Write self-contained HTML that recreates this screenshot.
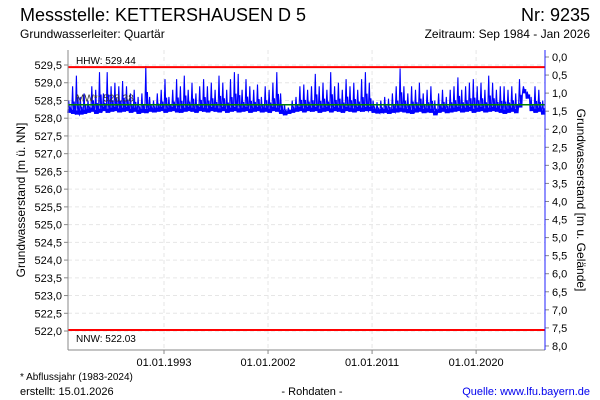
<!DOCTYPE html>
<html><head><meta charset="utf-8"><style>
body{margin:0;background:#fff;}
svg{display:block;font-family:"Liberation Sans",sans-serif;}
</style></head><body>
<svg id="c" width="600" height="400" viewBox="0 0 600 400">
<text x="20" y="21" font-size="18" fill="#000">Messstelle: KETTERSHAUSEN D 5</text>
<text x="590" y="21" font-size="18" text-anchor="end" fill="#000">Nr: 9235</text>
<text x="20" y="38" font-size="12">Grundwasserleiter: Quartär</text>
<text x="590" y="38" font-size="12" text-anchor="end">Zeitraum: Sep 1984 - Jan 2026</text>
<g id="grid"></g>
<g id="series"></g>
<g id="axes"></g>
<text transform="translate(25,200) rotate(-90)" font-size="12" text-anchor="middle">Grundwasserstand [m ü. NN]</text>
<text transform="translate(577,200) rotate(90)" font-size="12" text-anchor="middle">Grundwasserstand [m u. Gelände]</text>
<text x="20" y="380" font-size="10">* Abflussjahr (1983-2024)</text>
<text x="20" y="395" font-size="11">erstellt:  15.01.2026</text>
<text x="312" y="395" font-size="11" text-anchor="middle">- Rohdaten -</text>
<text x="590" y="395" font-size="11" text-anchor="end" fill="#0000ee">Quelle: www.lfu.bayern.de</text>
</svg>
<script>
const leftTicks=["529,5","529,0","528,5","528,0","527,5","527,0","526,5","526,0","525,5","525,0","524,5","524,0","523,5","523,0","522,5","522,0"];
const leftTickValues=[529.5,529,528.5,528,527.5,527,526.5,526,525.5,525,524.5,524,523.5,523,522.5,522];
const rightTicks=["0,0","0,5","1,0","1,5","2,0","2,5","3,0","3,5","4,0","4,5","5,0","5,5","6,0","6,5","7,0","7,5","8,0"];
const rightTickValues=[0,0.5,1,1.5,2,2.5,3,3.5,4,4.5,5,5.5,6,6.5,7,7.5,8];
const xTickLabels=["01.01.1993","01.01.2002","01.01.2011","01.01.2020"];
const xTickYears=[1993,2002,2011,2020];
const refValues=[529.44,528.38,522.03];
const refLabels=["HHW: 529.44","MW*: 528.38","NNW: 522.03"];
const startYear=1984.67, stepYear=1/3;
const highs=[528.5,528.9,529.2,528.6,528.7,528.5,528.9,528.8,529.3,528.7,529.3,528.9,529.0,528.9,529.05,528.9,528.7,528.8,528.6,528.7,529.47,528.6,528.5,528.7,528.8,529.1,528.6,528.8,529.1,528.9,529.2,528.8,529.0,528.7,528.9,529.1,528.9,529.0,528.8,529.2,529.0,528.8,529.1,529.3,529.25,528.8,529.1,528.9,528.8,528.95,528.6,528.9,528.8,529.0,529.3,528.7,528.4,528.3,528.5,528.6,528.9,528.95,528.8,528.9,529.25,528.9,529.0,528.8,529.3,528.9,529.0,528.8,529.1,528.9,529.0,528.8,529.1,529.3,529.0,528.5,528.45,528.5,528.6,528.55,528.7,528.9,529.4,528.9,528.7,528.9,528.8,529.0,528.7,528.8,528.9,528.5,528.7,528.8,528.6,528.8,528.9,529.15,528.8,528.9,529.0,529.1,528.9,529.0,528.8,529.2,529.0,528.8,528.9,528.9,528.8,528.9,528.7,529.1,528.9,528.75,528.6,528.9,528.8,528.5];
const lows=[528.15,528.12,528.1,528.1,528.12,528.15,528.18,528.12,528.15,528.2,528.15,528.18,528.2,528.16,528.18,528.2,528.15,528.18,528.12,528.15,528.14,528.18,528.16,528.18,528.2,528.15,528.18,528.2,528.16,528.15,528.18,528.2,528.18,528.15,528.2,528.18,528.16,528.2,528.18,528.16,528.2,528.15,528.18,528.2,528.16,528.18,528.2,528.15,528.18,528.2,528.16,528.18,528.15,528.2,528.18,528.12,528.08,528.12,528.15,528.18,528.2,528.16,528.2,528.18,528.2,528.15,528.18,528.2,528.16,528.2,528.18,528.15,528.2,528.18,528.16,528.2,528.18,528.2,528.2,528.15,528.13,528.14,528.15,528.12,528.15,528.16,528.18,528.16,528.14,528.12,528.16,528.18,528.14,528.16,528.15,528.08,528.15,528.18,528.14,528.16,528.18,528.2,528.16,528.18,528.2,528.15,528.18,528.2,528.16,528.18,528.2,528.18,528.15,528.12,528.15,528.18,528.14,528.3,528.7,528.55,528.2,528.15,528.18,528.1];
const NS="http://www.w3.org/2000/svg";
const X0=67.7, PX_PER_YEAR=11.56;
const xOf=yr=>X0+(yr-1984.67)*PX_PER_YEAR;
const yOf=v=>65+(529.5-v)*35.47;
const yR=d=>57+d*36.12;
const PL=68,PR=545,PT=50,PB=350;
function mk(tag,attrs,parent){const e=document.createElementNS(NS,tag);for(const k in attrs)e.setAttribute(k,attrs[k]);parent.appendChild(e);return e;}
const grid=document.getElementById('grid'),axes=document.getElementById('axes'),ser=document.getElementById('series');
leftTickValues.forEach((v,i)=>{
  const y=yOf(v);
  const g=mk('line',{x1:PL,x2:PR,y1:y,y2:y,stroke:'#e6e6e6','stroke-dasharray':'4,3'},grid);
  
  
  const t=mk('line',{x1:PL-4,x2:PL,y1:y,y2:y,stroke:'#888'},axes);
  
  
  const l=mk('text',{x:PL-6,y:y+4,'font-size':11,'text-anchor':'end'},axes);
  l.textContent=leftTicks[i];
  
  
});
rightTickValues.forEach((v,i)=>{
  const y=yR(v);
  const t=mk('line',{x1:PR,x2:PR+4,y1:y,y2:y,stroke:'#888'},axes);
  
  
  const l=mk('text',{x:PR+7,y:y+4,'font-size':11},axes);
  l.textContent=rightTicks[i];
  
  
});
xTickYears.forEach((yr,i)=>{
  const x=xOf(yr);
  const g=mk('line',{x1:x,x2:x,y1:PT,y2:PB,stroke:'#e6e6e6','stroke-dasharray':'4,3'},grid);
  
  
  const t=mk('line',{x1:x,x2:x,y1:PB,y2:PB+4,stroke:'#888'},axes);
  
  
  const l=mk('text',{x:x,y:PB+16,'font-size':11,'text-anchor':'middle'},axes);
  l.textContent=xTickLabels[i];
  
  
});
let d='';
highs.forEach((h,i)=>{
  const x=xOf(startYear+i*stepYear);
  const lo=lows[i];
  d+=(i?'L':'M')+x.toFixed(1)+','+yOf(lo).toFixed(1);
  d+='L'+(x+1).toFixed(1)+','+yOf(h).toFixed(1);
  d+='L'+(x+1.8).toFixed(1)+','+yOf(lo+0.1).toFixed(1);
  d+='L'+(x+2.6).toFixed(1)+','+yOf(lo+(h-lo)*0.45).toFixed(1);
  d+='L'+(x+3.3).toFixed(1)+','+yOf(lo+0.03).toFixed(1);
  const b=mk('rect',{x:x,y:yOf(lo+0.12),width:3.9,height:yOf(lo)-yOf(lo+0.12),fill:'#0000ff'},ser);
  
  
});
const line=mk('path',{d:d,fill:'none',stroke:'#0000ff','stroke-width':1.1},ser);


refValues.forEach((v,i)=>{
  const y=yOf(v);
  const c=i===1?'#008000':'#ff0000';
  const r=mk('line',{x1:PL,x2:PR,y1:y,y2:y,stroke:c,'stroke-width':i===1?1.5:2},ser);
  
  
  const ty=i===2?y+12:y-3;
  const l=mk('text',{x:76,y:ty,'font-size':10,fill:i===1?'#333':'#000'},ser);
  l.textContent=refLabels[i];
  
  
});
const la=mk('line',{x1:PL,x2:PL,y1:PT,y2:PB,stroke:'#888'},axes);


const ba=mk('line',{x1:PL,x2:PR,y1:PB,y2:PB,stroke:'#888'},axes);


const ra=mk('line',{x1:PR,x2:PR,y1:PT,y2:PB,stroke:'#2020ff'},axes);


</script>
</body></html>
